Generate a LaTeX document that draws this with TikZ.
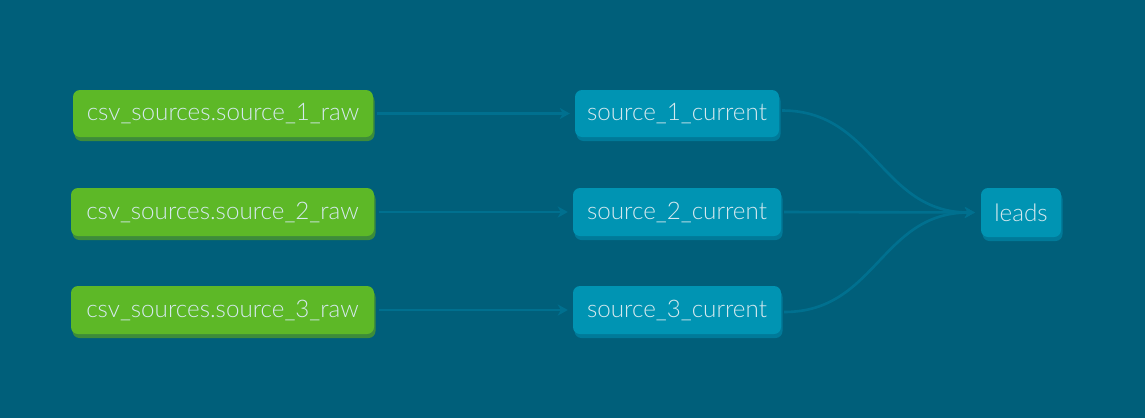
\documentclass[tikz,border=0pt]{standalone}
\usepackage{fontspec}
\setmainfont{Lato}[UprightFont=* Light]
\usetikzlibrary{shadows,arrows.meta}
\definecolor{bg}{HTML}{005F7A}
\definecolor{srcgreen}{HTML}{5DB827}
\definecolor{srcshadow}{HTML}{3D8C3A}
\definecolor{modblue}{HTML}{0094B3}
\definecolor{modshadow}{HTML}{007A99}
\definecolor{edgecol}{HTML}{00708F}
\definecolor{txt}{HTML}{D6E9EF}
\tikzset{
  box/.style={rounded corners=7pt, inner sep=0pt, text=txt, font=\fontsize{24.2}{28}\selectfont, minimum height=47pt},
  srcbox/.style={box, fill=srcgreen, general shadow={fill=srcshadow, shadow xshift=1.5pt, shadow yshift=-4pt}},
  modbox/.style={box, fill=modblue, general shadow={fill=modshadow, shadow xshift=1.5pt, shadow yshift=-4pt}},
  conn/.style={draw=edgecol, line width=2.6pt, -{Stealth[length=10pt,width=11pt,inset=3pt]}},
}
\begin{document}
\begin{tikzpicture}[x=1pt,y=-1pt]
\fill[bg] (0,0) rectangle (1145,418);
\useasboundingbox (0,0) rectangle (1145,418);
\node[srcbox, minimum width=300pt] (g1) at (223,113.5) {csv\_sources.source\_1\_raw};
\node[srcbox, minimum width=303pt, minimum height=48pt] (g2) at (222.5,212) {csv\_sources.source\_2\_raw};
\node[srcbox, minimum width=303pt, minimum height=48pt] (g3) at (222.5,310) {csv\_sources.source\_3\_raw};
\node[modbox, minimum width=204pt] (b1) at (677,113.5) {source\_1\_current};
\node[modbox, minimum width=208pt, minimum height=48pt] (b2) at (677,212) {source\_2\_current};
\node[modbox, minimum width=208pt, minimum height=48pt] (b3) at (677,310) {source\_3\_current};
\node[modbox, minimum width=80pt, minimum height=49pt] (l) at (1021,212.5) {leads};
\draw[conn, shorten <=4pt, shorten >=5pt] (g1.east) -- (b1.west);
\draw[conn, shorten <=5pt, shorten >=5pt] (g2.east) -- (b2.west);
\draw[conn, shorten <=5pt, shorten >=5pt] (g3.east) -- (b3.west);
\draw[conn, shorten <=3pt, shorten >=6pt] ([yshift=3pt]b1.east) .. controls +(95,0) and +(-100,0) .. (l.west);
\draw[conn, shorten <=3pt, shorten >=6pt] (b2.east) -- (l.west);
\draw[conn, shorten <=3pt, shorten >=6pt] ([yshift=-2pt]b3.east) .. controls +(95,0) and +(-100,0) .. (l.west);
\end{tikzpicture}
\end{document}
